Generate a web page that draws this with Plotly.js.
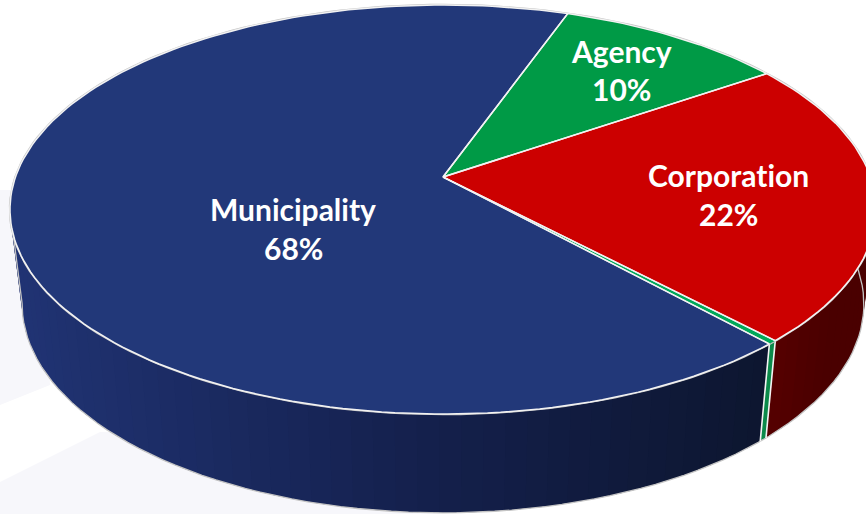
<!DOCTYPE html>
<html>
<head>
<meta charset="utf-8">
<script src="https://cdn.plot.ly/plotly-3.0.1.min.js"></script>
<style>
html,body{margin:0;padding:0;background:#fff;overflow:hidden}
svg text{font-variant-ligatures:none;font-feature-settings:"liga" 0}
</style>
</head>
<body>
<div id="chart" style="width:866px;height:514px"></div>
<script>
// Data (shares, clockwise from the Agency slice)
const categories = ["Agency", "Corporation", "Other", "Municipality"];
const shares = [10, 22.49, 0.3, 67.21];
const percentLabels = ["10%", "22%", "", "68%"];
const topColors = ["#009a46", "#cc0000", "#00a859", "#223879"];

// Styling / projection constants
const startDeg = 19.6;
const cx = 443, cy = 177, a = 427.5, b = 199.4, k = 0.159;
const botScale = 0.972, botY = 271, botV = 1.02;
const leftTangentDeg = 261;
const labelAnchors = {
  Agency: [621, 51, 88.5],
  Corporation: [728, 174.5, 213.5],
  Municipality: [293, 208.5, 248]
};

const rad = d => d * Math.PI / 180;
function topPt(t) {
  const u = Math.sin(rad(t)), v = Math.cos(rad(t)), w = 1 + k * v;
  return [cx + a * u / w, cy - b * v / w];
}
function botPt(t) {
  const u = Math.sin(rad(t)), v = Math.cos(rad(t)), w = 1 + k * v;
  return [cx + botScale * a * u / w, botY - botV * b * v / w];
}
function mix(c1, c2, f) {
  return "rgb(" + c1.map((c, i) => Math.round(c + (c2[i] - c) * f)).join(",") + ")";
}
function sideColor(name, x) {
  const f = Math.max(0, Math.min(1, (x - 20) / 745));
  if (name === "Municipality") {
    return f < 0.55 ? mix([32, 51, 115], [20, 32, 76], f / 0.55)
                    : mix([20, 32, 76], [13, 22, 48], (f - 0.55) / 0.45);
  }
  if (name === "Corporation") {
    return mix([74, 0, 0], [88, 0, 0], Math.max(0, (830 - x) / 65));
  }
  return "#0b8a4a";
}

// Slice angular ranges
let acc = startDeg;
const ranges = shares.map(s => { const r = [acc, acc + s * 3.6]; acc = r[1]; return r; });

const traces = [];
const base = {type: "scatter", mode: "lines", hoverinfo: "skip", showlegend: false};

// Side wall strips, each overlapping the next so no seams show
categories.forEach((name, i) => {
  const [s, e] = ranges[i];
  const from = Math.max(s, 60), to = Math.min(e, leftTangentDeg);
  if (to <= from) return;
  const n = Math.max(1, Math.round((to - from) / 2.5));
  for (let j = n - 1; j >= 0; j--) {
    const t0 = from + (to - from) * j / n, t1 = from + (to - from) * (j + 1) / n;
    const t00 = Math.max(from, t0 - (to - from) / n * 0.8);
    const p = [topPt(t00), topPt(t1), botPt(t1), botPt(t00), topPt(t00)];
    const mid = topPt((t0 + t1) / 2);
    const col = sideColor(name, mid[0]);
    traces.push(Object.assign({}, base, {
      x: p.map(q => q[0]), y: p.map(q => q[1]),
      fill: "toself", fillcolor: col, line: {color: "rgba(0,0,0,0)", width: 0}
    }));
  }
});

// Outer silhouette of the wall
const sil = [];
for (let t = 60; t <= leftTangentDeg; t += 2) sil.push(botPt(t));
sil.push(botPt(leftTangentDeg));
sil.push(topPt(leftTangentDeg));
traces.push(Object.assign({}, base, {
  x: sil.map(q => q[0]), y: sil.map(q => q[1]),
  line: {color: "#c4c4c4", width: 1.3}
}));

// White vertical seams at the slice edges on the wall
[ranges[1][1], ranges[2][1]].forEach(t => {
  const p = topPt(t), q = botPt(t);
  traces.push(Object.assign({}, base, {
    x: [p[0], q[0]], y: [p[1], q[1]], line: {color: "#f4f4f4", width: 1.6}
  }));
});

// Grey rim round the top face
const rim = [];
for (let t = 0; t <= 360; t += 2) rim.push(topPt(t));
traces.push(Object.assign({}, base, {
  x: rim.map(q => q[0]), y: rim.map(q => q[1]),
  line: {color: "#c4c4c4", width: 2.4}
}));

// Top face slices
categories.forEach((name, i) => {
  const [s, e] = ranges[i];
  const pts = [[cx, cy]];
  const n = Math.max(2, Math.ceil((e - s) / 1.5));
  for (let j = 0; j <= n; j++) pts.push(topPt(s + (e - s) * j / n));
  pts.push([cx, cy]);
  traces.push(Object.assign({}, base, {
    name: name,
    x: pts.map(q => q[0]), y: pts.map(q => q[1]),
    fill: "toself", fillcolor: topColors[i],
    line: {color: "rgba(0,0,0,0)", width: 0}
  }));
});

// White borders on the top face
categories.forEach((name, i) => {
  const [s, e] = ranges[i];
  const pts = [[cx, cy]];
  const n = Math.max(2, Math.ceil((e - s) / 1.5));
  for (let j = 0; j <= n; j++) pts.push(topPt(s + (e - s) * j / n));
  pts.push([cx, cy]);
  if (name === "Other") {
    traces.push(Object.assign({}, base, {
      x: [cx, pts[1][0]], y: [cy, pts[1][1]], line: {color: "#f2f2f2", width: 1.2}
    }));
    traces.push(Object.assign({}, base, {
      x: [cx, pts[pts.length - 2][0]], y: [cy, pts[pts.length - 2][1]], line: {color: "#f2f2f2", width: 1.2}
    }));
    return;
  }
  traces.push(Object.assign({}, base, {
    x: pts.map(q => q[0]), y: pts.map(q => q[1]),
    line: {color: "#f2f2f2", width: 1.5}
  }));
});

// Labels
const annotations = [];
categories.forEach((name, i) => {
  const pos = labelAnchors[name];
  if (!pos) return;
  const font = {family: "Lato, 'Open Sans', sans-serif", size: 30, color: "#ffffff", weight: 700};
  annotations.push({x: pos[0], y: pos[1], text: "<b>" + name + "</b>", showarrow: false, font: font, xanchor: "center", yanchor: "middle"});
  annotations.push({x: pos[0], y: pos[2], text: "<b>" + percentLabels[i] + "</b>", showarrow: false, font: font, xanchor: "center", yanchor: "middle"});
});

const layout = {
  width: 866, height: 514,
  margin: {l: 0, r: 0, t: 0, b: 0},
  paper_bgcolor: "#ffffff", plot_bgcolor: "rgba(0,0,0,0)",
  xaxis: {range: [0, 866], visible: false, fixedrange: true},
  yaxis: {range: [514, 0], visible: false, fixedrange: true},
  showlegend: false,
  annotations: annotations,
  shapes: [
    {type: "path", xref: "x", yref: "y", layer: "below", line: {width: 0}, fillcolor: "#f7f7fb",
     path: "M 0 190 L 40 190 L 50 385 L 0 405 Z"},
    {type: "path", xref: "x", yref: "y", layer: "below", line: {width: 0}, fillcolor: "#f7f7fb",
     path: "M 0 482 L 100 432 L 400 432 L 440 514 L 0 514 Z"}
  ]
};

Plotly.newPlot("chart", traces, layout, {staticPlot: true, displayModeBar: false});
</script>
</body>
</html>
